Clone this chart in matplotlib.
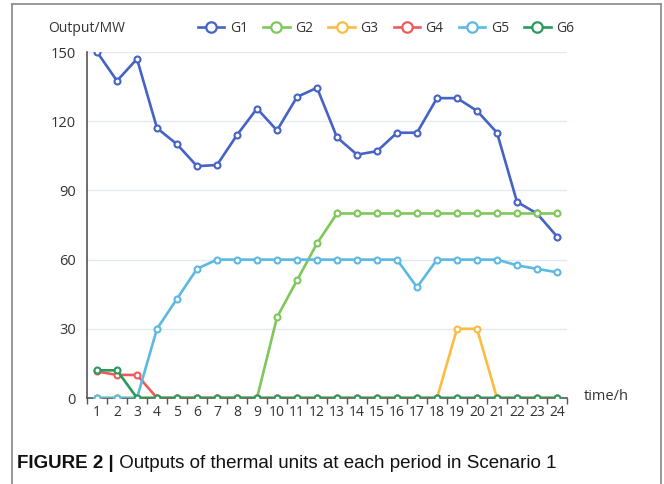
import matplotlib
matplotlib.use("Agg")
import matplotlib.pyplot as plt
from matplotlib.lines import Line2D
import numpy as np

plt.rcParams['font.family'] = ['Open Sans', 'DejaVu Sans']

hours = list(range(1, 25))
g1 = [150, 137.5, 147, 117, 110, 100.5, 101, 114, 125.5, 116, 130.5, 134.5,
      113, 105.5, 107, 115, 115, 130, 130, 124.5, 115, 85, 80, 70]
g2 = [0, 0, 0, 0, 0, 0, 0, 0, 0, 35, 51, 67,
      80, 80, 80, 80, 80, 80, 80, 80, 80, 80, 80, 80]
g3 = [0, 0, 0, 0, 0, 0, 0, 0, 0, 0, 0, 0,
      0, 0, 0, 0, 0, 0, 30, 30, 0, 0, 0, 0]
g4 = [11.5, 10, 10, 0, 0, 0, 0, 0, 0, 0, 0, 0,
      0, 0, 0, 0, 0, 0, 0, 0, 0, 0, 0, 0]
g5 = [0, 0, 0, 30, 43, 56, 60, 60, 60, 60, 60, 60,
      60, 60, 60, 60, 48, 60, 60, 60, 60, 57.5, 56, 54.5]
g6 = [12, 12, 0, 0, 0, 0, 0, 0, 0, 0, 0, 0,
      0, 0, 0, 0, 0, 0, 0, 0, 0, 0, 0, 0]
names = ['G1', 'G2', 'G3', 'G4', 'G5', 'G6']
series = [g1, g2, g3, g4, g5, g6]
colors = ['#4562c6', '#7fc75a', '#f9bd42', '#ee5b5b', '#5bb9e2', '#2a9a5c']
yticks = [0, 30, 60, 90, 120, 150]

fig = plt.figure(figsize=(6.64, 4.84), dpi=100)
ax = fig.add_axes([87/664, 1-398/484, 480/664, 346/484])

for s, c, n in zip(series, colors, names):
    ax.plot(hours, s, color=c, lw=1.9, marker='o', ms=4.3, mfc='white',
            mec=c, mew=1.5, label=n, zorder=3)

ax.set_xlim(0.5, 24.5)
ax.set_ylim(0, 150)
ax.set_yticks(yticks)
ax.set_xticks(hours)
ax.set_xticks(np.arange(0.5, 25, 1), minor=True)
ax.tick_params(axis='x', which='major', length=0, pad=5, labelsize=10, colors='#333333')
ax.tick_params(axis='x', which='minor', length=4, width=1, color='#555555', direction='out')
ax.tick_params(axis='y', length=0, pad=8, labelsize=10.5, colors='#333333')
for v in yticks[1:]:
    ax.axhline(v, color='#e3e8f2', lw=1, zorder=1)
for side in ['top', 'right']:
    ax.spines[side].set_visible(False)
ax.spines['left'].set_color('#555555')
ax.spines['bottom'].set_color('#555555')
ax.spines['left'].set_linewidth(1.2)
ax.spines['bottom'].set_linewidth(1.2)

fig.text(87/664, 1-28/484, 'Output/MW', ha='center', va='center', fontsize=10, color='#333333')
fig.text(584/664, 1-397/484, 'time/h', ha='left', va='center', fontsize=10.5, color='#333333')

handles = [Line2D([], [], color=c, lw=1.9, marker='o', ms=7.5, mfc='white', mec=c, mew=1.6)
           for c in colors]
fig.legend(handles, names, loc='center', bbox_to_anchor=(386/664, 1-28/484), ncol=6,
           frameon=False, handlelength=1.9, handletextpad=0.4, columnspacing=1.1,
           fontsize=10, labelcolor='#333333')

# frame around the figure panel
fig.add_artist(Line2D([12/664, 12/664], [0, 1-4/484], transform=fig.transFigure, color='#888888', lw=1.2))
fig.add_artist(Line2D([661/664, 661/664], [0, 1-4/484], transform=fig.transFigure, color='#888888', lw=1.2))
fig.add_artist(Line2D([12/664, 661/664], [1-4/484, 1-4/484], transform=fig.transFigure, color='#888888', lw=1.2))

cap_font = ['Liberation Sans Narrow', 'Liberation Sans', 'DejaVu Sans']
t1 = fig.text(17/664, 1-464/484, 'FIGURE 2 |', ha='left', va='center', fontsize=13.5,
              fontweight='bold', family=cap_font, color='#111111')
fig.canvas.draw()
t2 = plt.annotate(' Outputs of thermal units at each period in Scenario 1', xy=(1, 0.5),
                  xycoords=t1, ha='left', va='center', fontsize=13.5, family=cap_font,
                  color='#111111')

fig.savefig('out.png', dpi=100)
